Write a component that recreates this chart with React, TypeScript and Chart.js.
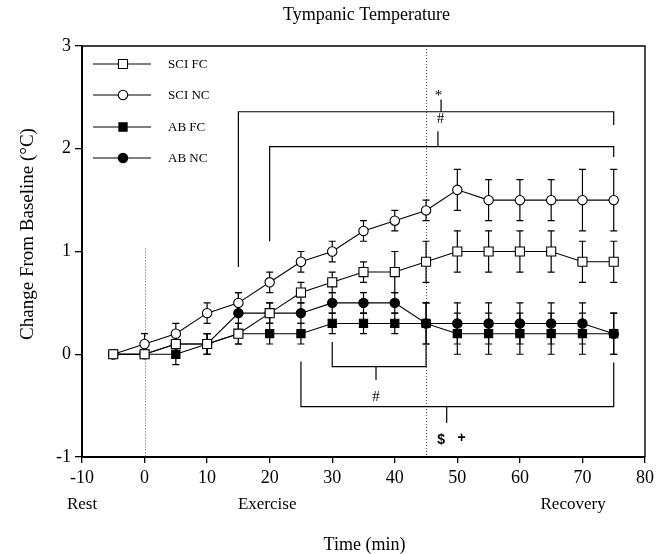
import React, { useEffect, useRef } from 'react';
import { Chart, registerables } from 'chart.js';

Chart.register(...registerables);

// ---- data ----
const times = [-5, 0, 5, 10, 15, 20, 25, 30, 35, 40, 45, 50, 55, 60, 65, 70, 75];

const sciFC = [0, 0, 0.1, 0.1, 0.2, 0.4, 0.6, 0.7, 0.8, 0.8, 0.9, 1.0, 1.0, 1.0, 1.0, 0.9, 0.9];
const sciFCErr = [0, 0, 0.1, 0.1, 0.1, 0.1, 0.1, 0.1, 0.1, 0.2, 0.2, 0.2, 0.2, 0.2, 0.2, 0.2, 0.2];

const sciNC = [0, 0.1, 0.2, 0.4, 0.5, 0.7, 0.9, 1.0, 1.2, 1.3, 1.4, 1.6, 1.5, 1.5, 1.5, 1.5, 1.5];
const sciNCErr = [0, 0.1, 0.1, 0.1, 0.1, 0.1, 0.1, 0.1, 0.1, 0.1, 0.1, 0.2, 0.2, 0.2, 0.2, 0.3, 0.3];

const abFC = [0, 0, 0, 0.1, 0.2, 0.2, 0.2, 0.3, 0.3, 0.3, 0.3, 0.2, 0.2, 0.2, 0.2, 0.2, 0.2];
const abFCErr = [0, 0, 0.1, 0.1, 0.1, 0.1, 0.1, 0.1, 0.1, 0.1, 0.2, 0.2, 0.2, 0.2, 0.2, 0.2, 0.2];

const abNC = [0, 0, 0.1, 0.1, 0.4, 0.4, 0.4, 0.5, 0.5, 0.5, 0.3, 0.3, 0.3, 0.3, 0.3, 0.3, 0.2];
const abNCErr = [0, 0, 0.1, 0.1, 0.2, 0.1, 0.1, 0.1, 0.1, 0.1, 0.2, 0.2, 0.2, 0.2, 0.2, 0.2, 0.2];

const seriesNames = ['SCI FC', 'SCI NC', 'AB FC', 'AB NC'];
const xTicks = [-10, 0, 10, 20, 30, 40, 50, 60, 70, 80];
const yTicks = [-1, 0, 1, 2, 3];

const phaseLabels = ['Rest', 'Exercise', 'Recovery'];
const phaseLabelX = [-10, 19.6, 68.5];

// significance brackets (data coordinates)
const bracketFrom = [15, 20, 30, 25];
const bracketTo = [75, 75, 45, 75];
const bracketLevel = [2.36, 2.02, -0.12, -0.51];
const bracketLeftEnd = [0.85, 1.1, 0.12, -0.07];
const bracketRightEnd = [2.23, 1.92, 0.09, -0.08];
const bracketMid = [47.4, 46.9, 37, 48.3];
const bracketMidEnd = [2.48, 2.17, -0.25, -0.67];

const marks = ['*', '#', '#', '$', '+'];
const markX = [47, 47.3, 37, 47.4, 50.7];
const markY = [2.51, 2.29, -0.42, -0.84, -0.82];

const SERIF = '"Liberation Serif", "Times New Roman", serif';

export default function App() {
  const ref = useRef<HTMLCanvasElement | null>(null);

  useEffect(() => {
    if (!ref.current) return;
    const mk = (arr: number[]) => times.map((t, i) => ({ x: t, y: arr[i] }));
    const errs = [sciFCErr, sciNCErr, abFCErr, abNCErr];
    const vals = [sciFC, sciNC, abFC, abNC];

    const styles = [
      { pointStyle: 'rect', fill: '#ffffff', radius: 6.4 },
      { pointStyle: 'circle', fill: '#ffffff', radius: 4.7 },
      { pointStyle: 'rect', fill: '#000000', radius: 5.8 },
      { pointStyle: 'circle', fill: '#000000', radius: 4.7 },
    ];

    const datasets = vals.map((v, i) => ({
      label: seriesNames[i],
      data: mk(v),
      borderColor: '#000',
      borderWidth: 1.1,
      pointStyle: styles[i].pointStyle,
      pointRadius: styles[i].radius,
      pointBackgroundColor: styles[i].fill,
      pointBorderColor: '#000',
      pointBorderWidth: 1.1,
      fill: false,
      tension: 0,
    }));

    const deco = {
      id: 'deco',
      beforeDatasetsDraw(chart: any) {
        const ctx = chart.ctx;
        const xs = chart.scales.x;
        const ys = chart.scales.y;
        const px = (v: number) => xs.getPixelForValue(v);
        const py = (v: number) => ys.getPixelForValue(v);
        const ca = chart.chartArea;
        ctx.save();
        // top & right frame
        ctx.strokeStyle = '#000';
        ctx.lineWidth = 1.4;
        ctx.beginPath();
        ctx.moveTo(ca.left, ca.top);
        ctx.lineTo(ca.right, ca.top);
        ctx.lineTo(ca.right, ca.bottom);
        ctx.stroke();

        // dotted phase lines
        ctx.strokeStyle = '#555';
        ctx.lineWidth = 1;
        ctx.setLineDash([1, 2]);
        ctx.beginPath();
        ctx.moveTo(Math.round(px(0)) + 0.5, py(1.03));
        ctx.lineTo(Math.round(px(0)) + 0.5, ca.bottom);
        ctx.moveTo(Math.round(px(45)) + 0.5, ca.top);
        ctx.lineTo(Math.round(px(45)) + 0.5, ca.bottom);
        ctx.stroke();
        ctx.setLineDash([]);

        // brackets
        ctx.strokeStyle = '#000';
        ctx.lineWidth = 1.2;
        for (let i = 0; i < bracketFrom.length; i++) {
          ctx.beginPath();
          ctx.moveTo(px(bracketFrom[i]), py(bracketLeftEnd[i]));
          ctx.lineTo(px(bracketFrom[i]), py(bracketLevel[i]));
          ctx.lineTo(px(bracketTo[i]), py(bracketLevel[i]));
          ctx.lineTo(px(bracketTo[i]), py(bracketRightEnd[i]));
          ctx.moveTo(px(bracketMid[i]), py(bracketLevel[i]));
          ctx.lineTo(px(bracketMid[i]), py(bracketMidEnd[i]));
          ctx.stroke();
        }

        // error bars
        ctx.lineWidth = 1.2;
        const cap = 3.5;
        for (let s = 0; s < vals.length; s++) {
          for (let i = 0; i < times.length; i++) {
            const e = errs[s][i];
            if (!e) continue;
            const x = px(times[i]);
            const y1 = py(vals[s][i] + e);
            const y2 = py(vals[s][i] - e);
            ctx.beginPath();
            ctx.moveTo(x, y1);
            ctx.lineTo(x, y2);
            ctx.moveTo(x - cap, y1);
            ctx.lineTo(x + cap, y1);
            ctx.moveTo(x - cap, y2);
            ctx.lineTo(x + cap, y2);
            ctx.stroke();
          }
        }
        ctx.restore();
      },
      afterDraw(chart: any) {
        const ctx = chart.ctx;
        const xs = chart.scales.x;
        const ys = chart.scales.y;
        const px = (v: number) => xs.getPixelForValue(v);
        const py = (v: number) => ys.getPixelForValue(v);
        const ca = chart.chartArea;
        ctx.save();
        ctx.fillStyle = '#000';
        ctx.textAlign = 'center';
        ctx.textBaseline = 'middle';

        // title
        ctx.font = `18px ${SERIF}`;
        ctx.fillText('Tympanic Temperature', (ca.left + ca.right) / 2 + 3, 15);

        // y title
        ctx.save();
        ctx.translate(28, 234);
        ctx.rotate(-Math.PI / 2);
        ctx.font = `19px ${SERIF}`;
        ctx.fillText('Change From Baseline (\u00B0C)', 0, 0);
        ctx.restore();

        // x title
        ctx.font = `18px ${SERIF}`;
        ctx.fillText('Time (min)', (ca.left + ca.right) / 2 + 1, 545);

        // phase labels
        ctx.font = `17px ${SERIF}`;
        for (let i = 0; i < phaseLabels.length; i++) {
          ctx.fillText(phaseLabels[i], px(phaseLabelX[i]), 505);
        }

        // annotation marks
        for (let i = 0; i < marks.length; i++) {
          if (marks[i] === '$' || marks[i] === '+') {
            ctx.font = `bold 14px "Liberation Sans", Arial, sans-serif`;
          } else {
            ctx.font = `15px ${SERIF}`;
          }
          ctx.fillText(marks[i], px(markX[i]), py(markY[i]));
        }

        // legend
        const rows = [64, 95, 127, 158];
        ctx.font = `13px ${SERIF}`;
        ctx.textAlign = 'left';
        for (let i = 0; i < seriesNames.length; i++) {
          const y = rows[i];
          ctx.strokeStyle = '#000';
          ctx.lineWidth = 1.1;
          ctx.beginPath();
          ctx.moveTo(93, y);
          ctx.lineTo(151, y);
          ctx.stroke();
          const st = styles[i];
          ctx.fillStyle = st.fill;
          ctx.beginPath();
          if (st.pointStyle === 'rect') {
            const h = st.radius * Math.SQRT1_2;
            ctx.rect(123 - h, y - h, 2 * h, 2 * h);
          } else {
            ctx.arc(123, y, st.radius, 0, Math.PI * 2);
          }
          ctx.fill();
          ctx.stroke();
          ctx.fillStyle = '#000';
          ctx.fillText(seriesNames[i], 168, y + 1);
        }
        ctx.restore();
      },
    };

    const chart = new Chart(ref.current, {
      type: 'line',
      data: { datasets: datasets as any },
      options: {
        animation: false,
        responsive: false,
        devicePixelRatio: 1,
        layout: { padding: { left: 0, top: 46, right: 20, bottom: 0 } },
        plugins: {
          legend: { display: false },
          title: { display: false },
          tooltip: { enabled: false },
        },
        scales: {
          x: {
            type: 'linear',
            min: -10,
            max: 80,
            afterBuildTicks: (s: any) => {
              s.ticks = xTicks.map((v) => ({ value: v }));
            },
            afterFit: (s: any) => {
              s.height = 97;
            },
            ticks: {
              color: '#000',
              font: { family: SERIF, size: 18 },
              padding: 4,
              maxRotation: 0,
              autoSkip: false,
            },
            grid: {
              display: true,
              drawOnChartArea: false,
              drawTicks: true,
              tickLength: 6,
              color: '#000',
              lineWidth: 1.3,
            },
            border: { display: true, color: '#000', width: 2 },
          },
          y: {
            type: 'linear',
            min: -1,
            max: 3,
            afterBuildTicks: (s: any) => {
              s.ticks = yTicks.map((v) => ({ value: v }));
            },
            afterFit: (s: any) => {
              s.width = 82;
            },
            ticks: {
              color: '#000',
              font: { family: SERIF, size: 18 },
              padding: 4,
              autoSkip: false,
            },
            grid: {
              display: true,
              drawOnChartArea: false,
              drawTicks: true,
              tickLength: 7,
              color: '#000',
              lineWidth: 1.3,
            },
            border: { display: true, color: '#000', width: 2 },
          },
        },
      },
      plugins: [deco],
    });
    return () => chart.destroy();
  }, []);

  return (
    <div style={{ position: 'absolute', left: 0, top: 0, width: 665, height: 554, background: '#fff' }}>
      <canvas ref={ref} width={665} height={554} style={{ width: 665, height: 554, display: 'block' }} />
    </div>
  );
}
